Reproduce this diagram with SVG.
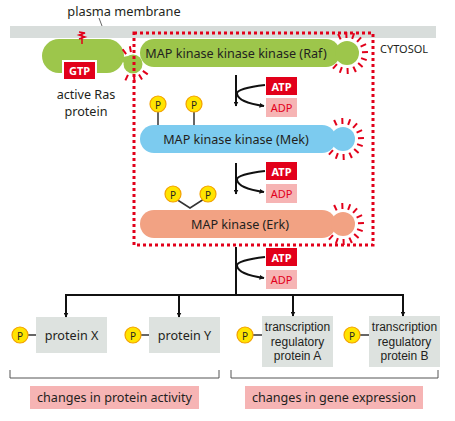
<svg xmlns="http://www.w3.org/2000/svg" xmlns:xlink="http://www.w3.org/1999/xlink" width="455" height="421" viewBox="0 0 455 421">
<style>
text{font-family:"Noto Sans","Liberation Sans",Arial,sans-serif;fill:#231f20}
.t{font-size:12.6px;text-anchor:middle;dominant-baseline:central}
.s{font-family:"Liberation Sans",Arial,sans-serif;font-size:12px;text-anchor:middle;dominant-baseline:central}
.atp{fill:#e2001a}
.adp{fill:#f6b4b4}
.atpt{font-size:11px;font-weight:bold;fill:#fff;text-anchor:middle;dominant-baseline:central}
.adpt{font-size:11px;fill:#e2001a;text-anchor:middle;dominant-baseline:central}
.pc{fill:#ffe400;stroke:#f3a100;stroke-width:1.2}
.pt{font-size:10px;text-anchor:middle;dominant-baseline:central;fill:#231f20}
.ln{stroke:#333;stroke-width:1.5;fill:none}
.ray{stroke:#e2001a;stroke-width:2}
.box{fill:#dde2df}
.arr{stroke:#111;stroke-width:2;fill:none}
.br{stroke:#555;stroke-width:1;fill:none}
</style>
<defs>
<marker id="ah" viewBox="0 0 10 10" refX="9" refY="5" markerWidth="5" markerHeight="5" orient="auto" markerUnits="userSpaceOnUse">
<path d="M0,0 L10,5 L0,10 z" fill="#111"/>
</marker>
<line id="r" class="ray" x1="15" y1="0" x2="21" y2="0"/>
<line id="rs" class="ray" x1="12" y1="0" x2="18" y2="0"/>
</defs>

<!-- membrane -->
<g id="membrane">
<rect x="10" y="26" width="426" height="12" fill="#d8dddb"/>
<text x="124" y="11" class="t" style="font-size:12.8px">plasma membrane</text>
<line x1="99" y1="18" x2="102" y2="26" stroke="#666" stroke-width="1"/>
<text x="380" y="48" style="font-size:11px;dominant-baseline:central">CYTOSOL</text>
</g>

<!-- Ras -->
<g id="ras">
<rect x="42" y="39" width="82" height="34" rx="17" fill="#9dc64b"/>
<circle cx="133" cy="64" r="9.5" fill="#9dc64b"/>
<path d="M118,58 Q124,62 126,66 L128,56 z" fill="#9dc64b"/>
<path d="M79,32 L85,33 L79,35 L85,37 L79,39 M82,32 V44" stroke="#e2001a" stroke-width="1.5" fill="none"/>
<rect x="62" y="60" width="35" height="21" fill="#fff"/>
<rect x="64" y="62" width="31" height="17" class="atp"/>
<text x="79.5" y="70.5" class="atpt">GTP</text>
<text x="86" y="94" class="t">active Ras</text>
<text x="86" y="111" class="t">protein</text>
<use href="#rs" transform="translate(133,64) rotate(-125)"/>
<use href="#rs" transform="translate(133,64) rotate(-100)"/>
<use href="#rs" transform="translate(133,64) rotate(35)"/>
<use href="#rs" transform="translate(133,64) rotate(60)"/>
<use href="#rs" transform="translate(133,64) rotate(85)"/>
<use href="#rs" transform="translate(133,64) rotate(115)"/>
</g>

<!-- Raf -->
<g id="raf">
<rect x="140" y="39" width="200" height="28" rx="14" fill="#9dc64b"/>
<circle cx="347" cy="53" r="12" fill="#9dc64b"/>
<text x="236" y="53" class="t">MAP kinase kinase kinase (Raf)</text>
<g transform="translate(347,53)">
<use href="#r" transform="rotate(-115)"/><use href="#r" transform="rotate(-92)"/><use href="#r" transform="rotate(-70)"/><use href="#r" transform="rotate(-48)"/><use href="#r" transform="rotate(-25)"/><use href="#r" transform="rotate(-3)"/><use href="#r" transform="rotate(20)"/><use href="#r" transform="rotate(42)"/><use href="#r" transform="rotate(65)"/><use href="#r" transform="rotate(88)"/><use href="#r" transform="rotate(110)"/><use href="#r" transform="rotate(132)"/>
</g>
</g>

<!-- Mek -->
<g id="mek">
<line x1="158" y1="112" x2="158" y2="126" class="ln"/>
<line x1="194" y1="112" x2="194" y2="126" class="ln"/>
<circle cx="158" cy="104" r="8" class="pc"/><text x="158" y="104.5" class="pt">P</text>
<circle cx="194" cy="104" r="8" class="pc"/><text x="194" y="104.5" class="pt">P</text>
<rect x="140" y="125" width="196" height="28" rx="14" fill="#7ccbef"/>
<circle cx="343" cy="139" r="12" fill="#7ccbef"/>
<text x="236" y="139" class="t">MAP kinase kinase (Mek)</text>
<g transform="translate(343,139)">
<use href="#r" transform="rotate(-115)"/><use href="#r" transform="rotate(-92)"/><use href="#r" transform="rotate(-70)"/><use href="#r" transform="rotate(-48)"/><use href="#r" transform="rotate(-25)"/><use href="#r" transform="rotate(-3)"/><use href="#r" transform="rotate(20)"/><use href="#r" transform="rotate(42)"/><use href="#r" transform="rotate(65)"/><use href="#r" transform="rotate(88)"/><use href="#r" transform="rotate(110)"/><use href="#r" transform="rotate(132)"/>
</g>
</g>

<!-- Erk -->
<g id="erk">
<path d="M176,199 L190,208 L204,199" class="ln"/>
<circle cx="173" cy="194" r="8" class="pc"/><text x="173" y="194.5" class="pt">P</text>
<circle cx="208" cy="194" r="8" class="pc"/><text x="208" y="194.5" class="pt">P</text>
<rect x="140" y="210" width="196" height="28" rx="14" fill="#f2a283"/>
<circle cx="343" cy="224" r="12" fill="#f2a283"/>
<text x="240" y="224" class="t">MAP kinase (Erk)</text>
<g transform="translate(343,224)">
<use href="#r" transform="rotate(-115)"/><use href="#r" transform="rotate(-92)"/><use href="#r" transform="rotate(-70)"/><use href="#r" transform="rotate(-48)"/><use href="#r" transform="rotate(-25)"/><use href="#r" transform="rotate(-3)"/><use href="#r" transform="rotate(20)"/><use href="#r" transform="rotate(42)"/><use href="#r" transform="rotate(65)"/><use href="#r" transform="rotate(88)"/><use href="#r" transform="rotate(110)"/><use href="#r" transform="rotate(132)"/>
</g>
</g>

<!-- dashed box -->
<rect x="134" y="33" width="239" height="212" fill="none" stroke="#e2001a" stroke-width="3" stroke-dasharray="3 3"/>

<!-- ATP/ADP -->
<g id="atp1">
<rect x="266" y="77" width="31" height="18" class="atp"/><text x="281.5" y="86" class="atpt">ATP</text>
<rect x="266" y="98" width="31" height="19" class="adp"/><text x="281.5" y="107.5" class="adpt">ADP</text>
</g>
<g id="atp2">
<rect x="266" y="162" width="31" height="18" class="atp"/><text x="281.5" y="171" class="atpt">ATP</text>
<rect x="266" y="184" width="31" height="19" class="adp"/><text x="281.5" y="193.5" class="adpt">ADP</text>
</g>
<g id="atp3">
<rect x="266" y="248" width="31" height="18" class="atp"/><text x="281.5" y="257" class="atpt">ATP</text>
<rect x="266" y="270" width="31" height="19" class="adp"/><text x="281.5" y="279.5" class="adpt">ADP</text>
</g>

<!-- bottom targets -->
<g id="proteinX">
<rect x="36" y="317" width="71" height="36" class="box"/>
<text x="71.5" y="335" class="t">protein X</text>
<line x1="28" y1="335" x2="36" y2="335" class="ln"/>
<circle cx="20" cy="335" r="8" class="pc"/><text x="20" y="335.5" class="pt">P</text>
</g>
<g id="proteinY">
<rect x="149" y="317" width="71" height="36" class="box"/>
<text x="184.5" y="335" class="t">protein Y</text>
<line x1="141" y1="335" x2="149" y2="335" class="ln"/>
<circle cx="133" cy="335" r="8" class="pc"/><text x="133" y="335.5" class="pt">P</text>
</g>
<g id="proteinA">
<rect x="262" y="316" width="71" height="51" class="box"/>
<text x="297.5" y="327" class="s">transcription</text>
<text x="297.5" y="341.5" class="s">regulatory</text>
<text x="297.5" y="356" class="s">protein A</text>
<line x1="253" y1="335" x2="262" y2="335" class="ln"/>
<circle cx="245" cy="335" r="8" class="pc"/><text x="245" y="335.5" class="pt">P</text>
</g>
<g id="proteinB">
<rect x="369" y="316" width="71" height="51" class="box"/>
<text x="404.5" y="327" class="s">transcription</text>
<text x="404.5" y="341.5" class="s">regulatory</text>
<text x="404.5" y="356" class="s">protein B</text>
<line x1="360" y1="335" x2="369" y2="335" class="ln"/>
<circle cx="352" cy="335" r="8" class="pc"/><text x="352" y="335.5" class="pt">P</text>
</g>

<!-- labels -->
<g id="labels">
<path d="M10,370 V378 H219 V370" class="br"/>
<path d="M231,370 V378 H438 V370" class="br"/>
<rect x="30" y="386" width="169" height="23" fill="#f6b4b4"/>
<text x="114.5" y="397.5" class="t">changes in protein activity</text>
<rect x="245" y="386" width="178" height="23" fill="#f6b4b4"/>
<text x="334" y="397.5" class="t">changes in gene expression</text>
</g>

<!-- connectors -->
<g id="connectors">
<line x1="236" y1="75" x2="236" y2="106" class="arr" marker-end="url(#ah)"/>
<path d="M265,85 C248,87 236,90 237,94 C238,100 250,104 264,106" class="arr" stroke-width="1.5" marker-end="url(#ah)"/>
<line x1="236" y1="163" x2="236" y2="194" class="arr" marker-end="url(#ah)"/>
<path d="M265,171 C248,173 236,176 237,180 C238,186 250,190 264,192" class="arr" stroke-width="1.5" marker-end="url(#ah)"/>
<line x1="236" y1="247" x2="236" y2="295" class="arr"/>
<path d="M265,257 C248,259 236,262 237,266 C238,272 250,276 264,278" class="arr" stroke-width="1.5" marker-end="url(#ah)"/>
<path d="M66,316 V295 H403 V316" class="arr"/>
<line x1="66" y1="300" x2="66" y2="317" class="arr" marker-end="url(#ah)"/>
<line x1="179" y1="295" x2="179" y2="317" class="arr" marker-end="url(#ah)"/>
<line x1="293" y1="295" x2="293" y2="316" class="arr" marker-end="url(#ah)"/>
<line x1="403" y1="300" x2="403" y2="316" class="arr" marker-end="url(#ah)"/>
</g>
</svg>
